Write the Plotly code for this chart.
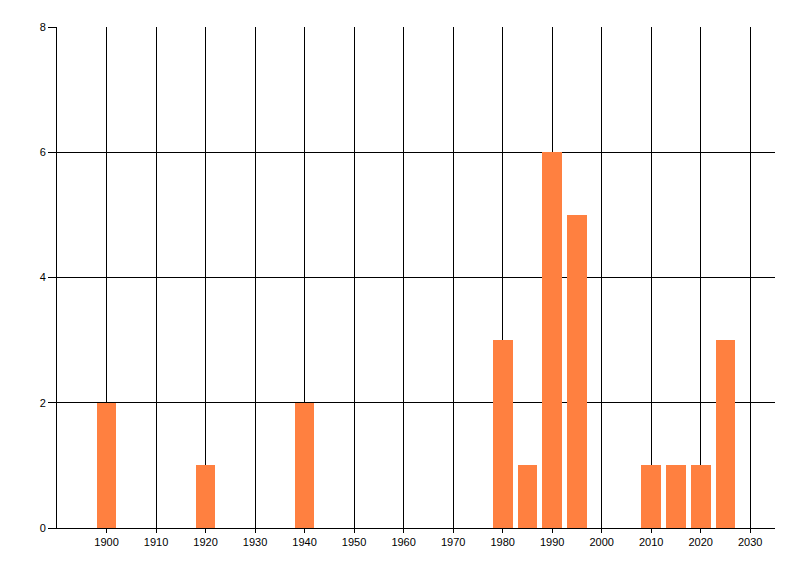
import plotly.graph_objects as go

years = [1900, 1920, 1940, 1980, 1985, 1990, 1995, 2010, 2015, 2020, 2025]
counts = [2, 1, 2, 3, 1, 6, 5, 1, 1, 1, 3]
x_ticks = list(range(1900, 2031, 10))
y_ticks = [0, 2, 4, 6, 8]

fig = go.Figure(go.Bar(
    x=years, y=counts, width=4,
    marker=dict(color="#FF8040", line=dict(width=0)),
))

axis_font = dict(family="Liberation Sans, Arial, sans-serif", size=11, color="black")
fig.update_layout(
    width=800, height=576,
    margin=dict(l=49, r=33, t=19, b=56),
    paper_bgcolor="white", plot_bgcolor="white",
    showlegend=False,
    bargap=0,
    xaxis=dict(
        range=[1890, 2035], tickvals=x_ticks, ticktext=[str(v) for v in x_ticks],
        showgrid=True, gridcolor="black", gridwidth=1,
        showline=True, linecolor="black", linewidth=1,
        ticks="outside", ticklen=4, tickcolor="black", tickwidth=1,
        tickfont=axis_font, zeroline=False, automargin=False,
    ),
    yaxis=dict(
        range=[0, 8], tickvals=y_ticks,
        showgrid=True, gridcolor="black", gridwidth=1,
        showline=True, linecolor="black", linewidth=1,
        ticks="outside", ticklen=8, tickcolor="black", tickwidth=1,
        tickfont=axis_font, zeroline=False, automargin=False,
    ),
)

fig.write_html("out.html")
